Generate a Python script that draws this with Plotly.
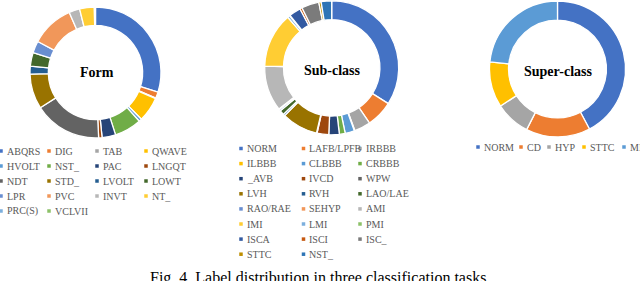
import plotly.graph_objects as go

# ---------------- data ----------------
FORM_LABELS = ["ABQRS", "DIG", "TAB", "QWAVE", "HVOLT", "NST_", "PAC", "LNGQT",
               "NDT", "STD_", "LVOLT", "LOWT", "LPR", "PVC", "INVT", "NT_",
               "PRC(S)", "VCLVII"]
FORM_VALUES = [107, 5.5, 0.5, 22, 2.5, 24, 12, 3,
               60, 31, 7, 12, 10.5, 38, 9.5, 13,
               0.5, 0.5]

SUB_LABELS = ["NORM", "LAFB/LPFB", "IRBBB", "ILBBB", "CLBBB", "CRBBB", "_AVB",
              "IVCD", "WPW", "LVH", "RVH", "LAO/LAE", "RAO/RAE", "SEHYP", "AMI",
              "IMI", "LMI", "PMI", "ISCA", "ISCI", "ISC_", "STTC", "NST_"]
SUB_VALUES = [121, 23, 14, 0.5, 8, 5, 9,
              10, 0.5, 31, 1.5, 4, 1.5, 0.5, 39,
              47, 2, 0.5, 10, 2, 15, 2, 9]

SUPER_LABELS = ["NORM", "CD", "HYP", "STTC", "MI"]
SUPER_VALUES = [152, 55, 30, 39, 84]

CENTER_TITLES = ["Form", "Sub-class", "Super-class"]
CAPTION = "Fig. 4. Label distribution in three classification tasks."

# ---------------- style ----------------
PALETTE = ["#4472C4", "#ED7D31", "#A5A5A5", "#FFC000", "#5B9BD5", "#70AD47",
           "#264478", "#9E480E", "#636363", "#997300", "#255E91", "#43682B",
           "#698ED0", "#F1975A", "#B7B7B7", "#FFCD33", "#7CAFDD", "#8CC168",
           "#335AA1", "#C65911", "#7B7B7B", "#BF8F00", "#2E75B6", "#548235"]

W, H = 640, 281
SERIF = "Liberation Serif, Times New Roman, serif"
LEG_COLOR = "#595959"


def dom(cx, cy, r):
    return dict(x=[(cx - r) / W, (cx + r) / W],
                y=[(H - cy - r) / H, (H - cy + r) / H])


fig = go.Figure()

donuts = [
    (FORM_LABELS, FORM_VALUES, (95.5, 72.5, 65.5), (96.5, 72.5)),
    (SUB_LABELS, SUB_VALUES, (331.7, 67.8, 67), (332.5, 70)),
    (SUPER_LABELS, SUPER_VALUES, (557.5, 69, 68), (558, 71.5)),
]

annotations = []
for (labels, values, (cx, cy, r), (tx, ty)), title in zip(donuts, CENTER_TITLES):
    fig.add_trace(go.Pie(
        labels=labels, values=values, hole=0.72, sort=False,
        direction="clockwise", rotation=0, textinfo="none",
        marker=dict(colors=PALETTE[:len(labels)],
                    line=dict(color="white", width=1.3)),
        domain=dom(cx, cy, r), showlegend=False, hoverinfo="label+value",
    ))
    annotations.append(dict(x=tx, y=ty, xref="x", yref="y", text=title,
                            showarrow=False, xanchor="center", yanchor="middle",
                            font=dict(family=SERIF, size=14, color="black",
                                      weight="bold")))

# ---------------- manual legends ----------------
mx, my, mc = [], [], []


def add_legend(labels, col_x, y0, dy, ncols):
    for i, lab in enumerate(labels):
        rr, cc = divmod(i, ncols)
        x = col_x[cc]
        y = y0 + rr * dy
        mx.append(x)
        my.append(y)
        mc.append(PALETTE[i])
        annotations.append(dict(x=x + 3.5, y=y, xref="x", yref="y", text=lab,
                                showarrow=False, xanchor="left",
                                yanchor="middle",
                                font=dict(family=SERIF, size=10,
                                          color=LEG_COLOR)))


add_legend(FORM_LABELS, [1, 49, 97, 146], 151, 15, 4)
add_legend(SUB_LABELS, [241, 303.5, 360], 148.5, 15.1, 3)
add_legend(SUPER_LABELS, [478, 521, 549, 584, 624], 147, 15, 5)

fig.add_trace(go.Scatter(
    x=mx, y=my, mode="markers",
    marker=dict(symbol="square", size=3.5, color=mc, line=dict(width=0)),
    showlegend=False, hoverinfo="skip",
))

annotations.append(dict(x=320, y=267, xref="x", yref="y", text=CAPTION,
                        showarrow=False, xanchor="center", yanchor="top",
                        font=dict(family=SERIF, size=16, color="black")))

fig.update_layout(
    width=W, height=H, autosize=False,
    margin=dict(l=0, r=0, t=0, b=0),
    paper_bgcolor="white", plot_bgcolor="rgba(0,0,0,0)",
    xaxis=dict(range=[0, W], visible=False, fixedrange=True),
    yaxis=dict(range=[H, 0], visible=False, fixedrange=True),
    annotations=annotations,
    showlegend=False,
)

fig.write_html(
    "out.html",
    config={"displayModeBar": False},
    post_script="document.body.style.margin='0';document.body.style.overflow='hidden';",
)
